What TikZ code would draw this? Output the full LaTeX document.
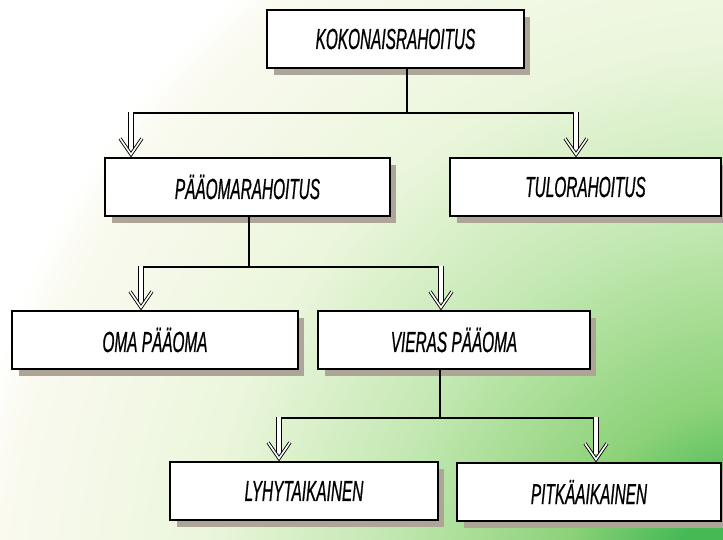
\documentclass[tikz,border=0pt]{standalone}
\usepackage{fontspec}
\setmainfont{Liberation Sans}[ItalicFeatures={FakeStretch=0.53,FakeBold=0.6}]
\usetikzlibrary{arrows.meta}
\definecolor{gdark}{RGB}{70,185,85}
\definecolor{gmid}{RGB}{140,210,120}
\definecolor{glight}{RGB}{195,232,178}
\definecolor{gpale}{RGB}{235,246,220}
\definecolor{gcream}{RGB}{250,250,240}
\definecolor{shadowgray}{RGB}{172,165,152}
\pgfdeclareradialshading{greencorner}{\pgfpoint{0bp}{0bp}}{color(0bp)=(gdark); color(3.1bp)=(gdark); color(6.25bp)=(gmid); color(11.9bp)=(glight); color(17.5bp)=(gpale); color(23.75bp)=(gcream); color(25bp)=(white); color(50bp)=(white)}
\tikzset{
  box/.style={draw=black, line width=1.1pt, fill=white, minimum height=58pt, inner sep=0pt,
    font=\fontsize{29}{29}\selectfont\itshape},
  boxshadow/.style={fill=shadowgray},
  conn/.style={line width=1.4pt},
  shaft/.style={double, double distance=3.4pt, line width=1.1pt, draw=black, double=white},
  chev/.style={double, double distance=1.6pt, line width=0.9pt, draw=black, double=white, line join=miter},
}
\begin{document}
\begin{tikzpicture}[x=1pt,y=-1pt]
\useasboundingbox (0,0) rectangle (723,540);
\begin{scope}
\clip (0,0) rectangle (723,540);
\fill[white] (0,0) rectangle (723,540);
\shade[shading=greencorner] (760,600) circle (800);
\end{scope}
% shadows
\foreach \xa/\ya/\xb/\yb in {267/10/524/68, 105/158/390/216, 450/158/721/216, 12/311/298/369, 318/311/590/369, 170/462/438/520, 457/463/721/521}{
  \fill[boxshadow] (\xa+7,\ya+7) rectangle (\xb+6,\yb+7);
}
\node[box, minimum width=257pt] (top) at (395.5,39) {KOKONAISRAHOITUS};
\node[box, minimum width=285pt] (pao) at (247.5,187) {PÄÄOMARAHOITUS};
\node[box, minimum width=271pt] (tulo) at (585.5,187) {TULORAHOITUS};
\node[box, minimum width=286pt] (oma) at (155,340) {OMA PÄÄOMA};
\node[box, minimum width=272pt] (vieras) at (454,340) {VIERAS PÄÄOMA};
\node[box, minimum width=268pt] (lyhyt) at (304,491) {LYHYTAIKAINEN};
\node[box, minimum width=264pt] (pitka) at (589,492) {PITKÄAIKAINEN};
% junctions and arrow starts
\coordinate (j1) at (407,113);
\coordinate (a1) at (131,113);
\coordinate (a2) at (576,113);
\coordinate (j2) at (249,267);
\coordinate (b1) at (141,267);
\coordinate (b2) at (441,267);
\coordinate (j3) at (440,418);
\coordinate (c1) at (279,418);
\coordinate (c2) at (596,418);
% arrow tips
\coordinate (ta1) at ([yshift=3pt]pao.north -| a1);
\coordinate (ta2) at ([yshift=3pt]tulo.north -| a2);
\coordinate (tb1) at ([yshift=3pt]oma.north -| b1);
\coordinate (tb2) at ([yshift=3pt]vieras.north -| b2);
\coordinate (tc1) at ([yshift=3pt]lyhyt.north -| c1);
\coordinate (tc2) at ([yshift=3pt]pitka.north -| c2);
% stems and bars
\draw[conn] (top.south -| j1) -- (j1);
\draw[conn] ([xshift=-2.8pt]a1) -- ([xshift=2.8pt]a2);
\draw[conn] (pao.south -| j2) -- (j2);
\draw[conn] ([xshift=-2.8pt]b1) -- ([xshift=2.8pt]b2);
\draw[conn] (vieras.south -| j3) -- (j3);
\draw[conn] ([xshift=-2.8pt]c1) -- ([xshift=2.8pt]c2);
% double arrows
\foreach \s/\t in {a1/ta1, a2/ta2, b1/tb1, b2/tb2, c1/tc1, c2/tc2}{
  \draw[shaft] ([yshift=0.7pt]\s) -- ([yshift=5pt]\t);
  \draw[chev] ([shift={(-11pt,16pt)}]\t) -- (\t) -- ([shift={(11pt,16pt)}]\t);
}
\end{tikzpicture}
\end{document}
